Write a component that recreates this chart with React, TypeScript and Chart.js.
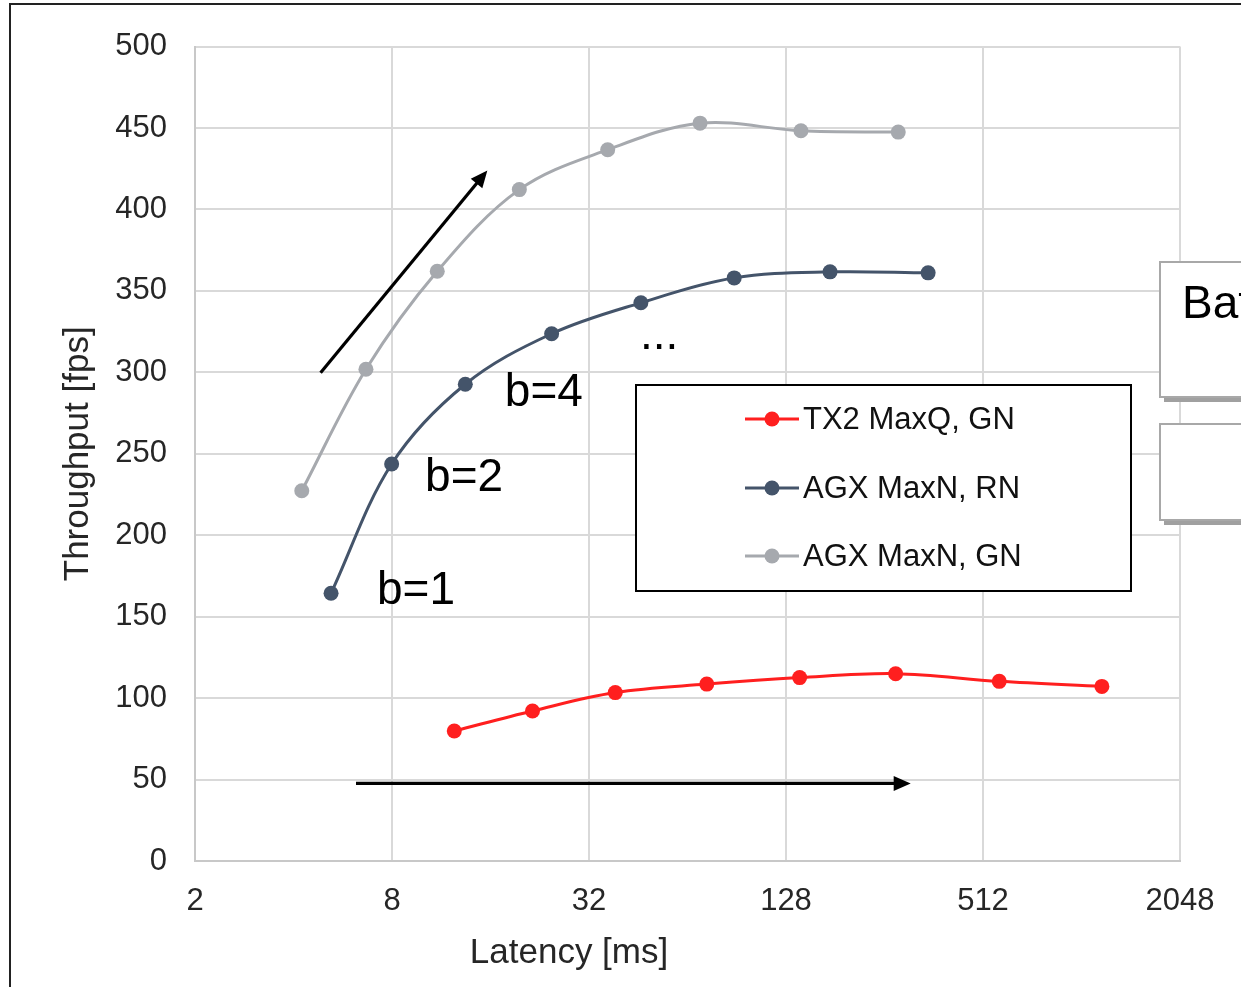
import React, { useEffect, useRef } from 'react';
import { Chart, registerables } from 'chart.js';

Chart.register(...registerables);

// ---- data ----
const seriesNames = ['TX2 MaxQ, GN', 'AGX MaxN, RN', 'AGX MaxN, GN'];
const seriesColors = ['#FF1F1F', '#44546A', '#A6A9AE'];

const tx2Latency = [12.4, 21.5, 38.5, 73.3, 140.9, 276.9, 574, 1182];
const tx2Throughput = [79.8, 92.1, 103.4, 108.6, 112.6, 115.0, 110.3, 107.2];

const agxRnLatency = [5.21, 7.98, 13.4, 24.6, 46.1, 88.9, 174.5, 348];
const agxRnThroughput = [164.4, 243.7, 292.7, 323.7, 342.7, 358.0, 361.7, 361.1];

const agxGnLatency = [4.24, 6.66, 11.0, 19.6, 36.5, 69.9, 142.2, 282];
const agxGnThroughput = [227.3, 301.9, 362.1, 412.2, 436.7, 453.0, 448.3, 447.5];

const xTickValues = [2, 8, 32, 128, 512, 2048];
const yTickStep = 50;
const xTitle = 'Latency [ms]';
const yTitle = 'Throughput [fps]';
const boxTitle = 'Batch size';

// annotations, in data coordinates
const batchLabelText = ['b=1', 'b=2', 'b=4', '...'];
const batchLabelX = [7.2, 10.1, 17.7, 45.8];
const batchLabelY = [158, 227.3, 279.4, 314.3];

const FONT = '"Liberation Sans", Arial, Helvetica, sans-serif';

function drawArrow(ctx: CanvasRenderingContext2D, x1: number, y1: number, x2: number, y2: number) {
  const ang = Math.atan2(y2 - y1, x2 - x1);
  const head = 17;
  const half = 7.5;
  const bx = x2 - head * Math.cos(ang);
  const by = y2 - head * Math.sin(ang);
  ctx.save();
  ctx.strokeStyle = '#000';
  ctx.fillStyle = '#000';
  ctx.lineWidth = 3.2;
  ctx.beginPath();
  ctx.moveTo(x1, y1);
  ctx.lineTo(bx + 2 * Math.cos(ang), by + 2 * Math.sin(ang));
  ctx.stroke();
  ctx.beginPath();
  ctx.moveTo(x2, y2);
  ctx.lineTo(bx + half * Math.sin(ang), by - half * Math.cos(ang));
  ctx.lineTo(bx - half * Math.sin(ang), by + half * Math.cos(ang));
  ctx.closePath();
  ctx.fill();
  ctx.restore();
}

const overlayPlugin = {
  id: 'overlay',
  beforeDraw(chart: any) {
    const ctx = chart.ctx;
    ctx.save();
    ctx.fillStyle = '#fff';
    ctx.fillRect(0, 0, chart.width, chart.height);
    ctx.restore();
  },
  afterDraw(chart: any) {
    const ctx: CanvasRenderingContext2D = chart.ctx;
    const xs = chart.scales.x;
    const ys = chart.scales.y;
    const area = chart.chartArea;

    // arrows
    drawArrow(ctx, xs.getPixelForValue(4.84), ys.getPixelForValue(299.8), xs.getPixelForValue(15.65), ys.getPixelForValue(424));
    drawArrow(ctx, xs.getPixelForValue(6.21), ys.getPixelForValue(47.6), xs.getPixelForValue(307.8), ys.getPixelForValue(47.6));

    // batch labels
    ctx.save();
    ctx.fillStyle = '#000';
    ctx.font = `46px ${FONT}`;
    ctx.textAlign = 'left';
    ctx.textBaseline = 'alphabetic';
    batchLabelText.forEach((t, i) => {
      ctx.fillText(t, xs.getPixelForValue(batchLabelX[i]), ys.getPixelForValue(batchLabelY[i]));
    });
    ctx.restore();

    // legend box
    const lx = 636, ly = 385, lw = 495, lh = 206;
    ctx.save();
    ctx.fillStyle = '#fff';
    ctx.fillRect(lx, ly, lw, lh);
    ctx.strokeStyle = '#000';
    ctx.lineWidth = 2;
    ctx.strokeRect(lx, ly, lw, lh);
    const rows = [419, 488, 556];
    chart.data.datasets.forEach((ds: any, i: number) => {
      const y = rows[i];
      ctx.strokeStyle = ds.borderColor;
      ctx.lineWidth = 3;
      ctx.beginPath();
      ctx.moveTo(745, y);
      ctx.lineTo(799, y);
      ctx.stroke();
      ctx.fillStyle = ds.borderColor;
      ctx.beginPath();
      ctx.arc(772, y, 7.5, 0, Math.PI * 2);
      ctx.fill();
      ctx.fillStyle = '#111';
      ctx.font = `31px ${FONT}`;
      ctx.textAlign = 'left';
      ctx.textBaseline = 'middle';
      ctx.fillText(ds.label, 803, y + 1);
    });
    ctx.restore();

    // right-hand boxes (cut off by the page edge)
    ctx.save();
    const boxes = [
      { x: 1160, y: 262, h: 135 },
      { x: 1160, y: 424, h: 96 },
    ];
    boxes.forEach((b) => {
      ctx.fillStyle = '#A0A0A0';
      ctx.fillRect(b.x + 4, b.y + 5, 200, b.h);
      ctx.fillStyle = '#fff';
      ctx.fillRect(b.x, b.y, 200, b.h);
      ctx.strokeStyle = '#A8A8A8';
      ctx.lineWidth = 2;
      ctx.strokeRect(b.x, b.y, 200, b.h);
    });
    ctx.fillStyle = '#000';
    ctx.font = `46px ${FONT}`;
    ctx.textAlign = 'left';
    ctx.textBaseline = 'alphabetic';
    ctx.fillText(boxTitle, 1182, 318);
    ctx.restore();

    // axis titles
    ctx.save();
    ctx.fillStyle = '#262626';
    ctx.font = `35px ${FONT}`;
    ctx.textAlign = 'center';
    ctx.textBaseline = 'middle';
    ctx.fillText(xTitle, 569, 953);
    ctx.translate(78, (area.top + area.bottom) / 2);
    ctx.rotate(-Math.PI / 2);
    ctx.fillText(yTitle, 0, 0);
    ctx.restore();

    // outer frame
    ctx.save();
    ctx.strokeStyle = '#222';
    ctx.lineWidth = 2;
    ctx.strokeRect(10, 4, 1400, 1200);
    ctx.restore();
  },
};

export default function App() {
  const ref = useRef<HTMLCanvasElement>(null);

  useEffect(() => {
    if (!ref.current) return;
    const mk = (xs: number[], ys: number[]) => xs.map((x, i) => ({ x, y: ys[i] }));
    const allX = [tx2Latency, agxRnLatency, agxGnLatency];
    const allY = [tx2Throughput, agxRnThroughput, agxGnThroughput];
    const tickFont = { family: FONT, size: 31 };
    const chart = new Chart(ref.current, {
      type: 'line',
      data: {
        datasets: seriesNames.map((name, i) => ({
          label: name,
          data: mk(allX[i], allY[i]),
          borderColor: seriesColors[i],
          backgroundColor: seriesColors[i],
          pointBackgroundColor: seriesColors[i],
          pointBorderColor: seriesColors[i],
          pointRadius: 7.5,
          pointBorderWidth: 0,
          borderWidth: 3,
          tension: 0.35,
          fill: false,
        })),
      },
      options: {
        animation: false,
        responsive: false,
        maintainAspectRatio: false,
        layout: { padding: { top: 45, right: 61, left: 0, bottom: 0 } },
        plugins: {
          legend: { display: false },
          tooltip: { enabled: false },
        },
        scales: {
          x: {
            type: 'logarithmic',
            min: 2,
            max: 2048,
            afterBuildTicks: (s: any) => {
              s.ticks = xTickValues.map((v) => ({ value: v }));
            },
            afterFit: (s: any) => {
              s.height = 126;
            },
            ticks: {
              autoSkip: false,
              maxRotation: 0,
              padding: 22,
              color: '#262626',
              font: tickFont,
              callback: (v: any) => String(v),
            },
            grid: { color: '#D9D9D9', lineWidth: 2, drawTicks: false },
            border: { color: '#C8C8C8', width: 2 },
          },
          y: {
            type: 'linear',
            min: 0,
            max: 500,
            afterFit: (s: any) => {
              s.width = 195;
            },
            ticks: {
              stepSize: yTickStep,
              padding: 28,
              color: '#262626',
              font: tickFont,
            },
            grid: { color: '#D9D9D9', lineWidth: 2, drawTicks: false },
            border: { color: '#C8C8C8', width: 2 },
          },
        },
      },
      plugins: [overlayPlugin],
    } as any);
    return () => chart.destroy();
  }, []);

  return (
    <div style={{ position: 'fixed', left: 0, top: 0, width: 1241, height: 987, background: '#fff', overflow: 'hidden' }}>
      <canvas ref={ref} width={1241} height={987} style={{ width: 1241, height: 987, display: 'block' }} />
    </div>
  );
}
